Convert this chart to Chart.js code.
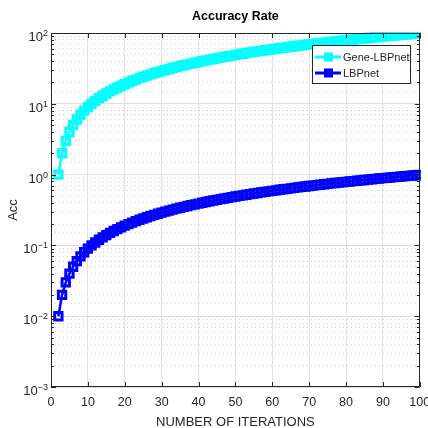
<!DOCTYPE html>
<html>
<head>
<meta charset="utf-8">
<script src="https://cdn.jsdelivr.net/npm/chart.js@4.4.0/dist/chart.umd.min.js"></script>
<style>
  html, body { margin: 0; padding: 0; background: #fff; }
  #wrap { width: 428px; height: 428px; }
</style>
</head>
<body>
<div id="wrap"><canvas id="accChart" width="428" height="428"></canvas></div>
<script>
// Accuracy rate vs. iterations (log y axis)

const iterations = [
   2,  3,  4,  5,  6,  7,  8,  9, 10, 11, 12, 13, 14, 15, 16, 17, 18, 19, 20, 21,
  22, 23, 24, 25, 26, 27, 28, 29, 30, 31, 32, 33, 34, 35, 36, 37, 38, 39, 40, 41,
  42, 43, 44, 45, 46, 47, 48, 49, 50, 51, 52, 53, 54, 55, 56, 57, 58, 59, 60, 61,
  62, 63, 64, 65, 66, 67, 68, 69, 70, 71, 72, 73, 74, 75, 76, 77, 78, 79, 80, 81,
  82, 83, 84, 85, 86, 87, 88, 89, 90, 91, 92, 93, 94, 95, 96, 97, 98, 99, 100
];

const geneLBPnet = [
   1,  2,  3,  4,  5,  6,  7,  8,  9, 10, 11, 12, 13, 14, 15, 16, 17, 18, 19, 20,
  21, 22, 23, 24, 25, 26, 27, 28, 29, 30, 31, 32, 33, 34, 35, 36, 37, 38, 39, 40,
  41, 42, 43, 44, 45, 46, 47, 48, 49, 50, 51, 52, 53, 54, 55, 56, 57, 58, 59, 60,
  61, 62, 63, 64, 65, 66, 67, 68, 69, 70, 71, 72, 73, 74, 75, 76, 77, 78, 79, 80,
  81, 82, 83, 84, 85, 86, 87, 88, 89, 90, 91, 92, 93, 94, 95, 96, 97, 98, 99
];

const lbpNet = [
  0.01, 0.02, 0.03, 0.04, 0.05, 0.06, 0.07, 0.08, 0.09, 0.10,
  0.11, 0.12, 0.13, 0.14, 0.15, 0.16, 0.17, 0.18, 0.19, 0.20,
  0.21, 0.22, 0.23, 0.24, 0.25, 0.26, 0.27, 0.28, 0.29, 0.30,
  0.31, 0.32, 0.33, 0.34, 0.35, 0.36, 0.37, 0.38, 0.39, 0.40,
  0.41, 0.42, 0.43, 0.44, 0.45, 0.46, 0.47, 0.48, 0.49, 0.50,
  0.51, 0.52, 0.53, 0.54, 0.55, 0.56, 0.57, 0.58, 0.59, 0.60,
  0.61, 0.62, 0.63, 0.64, 0.65, 0.66, 0.67, 0.68, 0.69, 0.70,
  0.71, 0.72, 0.73, 0.74, 0.75, 0.76, 0.77, 0.78, 0.79, 0.80,
  0.81, 0.82, 0.83, 0.84, 0.85, 0.86, 0.87, 0.88, 0.89, 0.90,
  0.91, 0.92, 0.93, 0.94, 0.95, 0.96, 0.97, 0.98, 0.99
];

const xTicks = [0, 10, 20, 30, 40, 50, 60, 70, 80, 90, 100];
const yExponents = [-3, -2, -1, 0, 1, 2];
const seriesNames = ['Gene-LBPnet', 'LBPnet'];
const seriesColors = ['#00ffff', '#0000ff'];

const FONT = '"Liberation Sans", Arial, sans-serif';
const TEXT = '#262626';

function isPow10(v) {
  const e = Math.log10(v);
  return Math.abs(e - Math.round(e)) < 1e-9;
}

// MATLAB-like box, inward ticks, superscript labels, titles, legend
const matlabLook = {
  id: 'matlabLook',
  afterDatasetsDraw(chart) {
    const { ctx, chartArea: a, scales: { x, y } } = chart;
    ctx.save();
    ctx.strokeStyle = TEXT;
    ctx.lineWidth = 1;

    // box
    ctx.beginPath();
    ctx.rect(Math.round(a.left) + 0.5, Math.round(a.top) + 0.5,
             Math.round(a.right - a.left) - 1, Math.round(a.bottom - a.top) - 1);
    ctx.stroke();

    // x ticks
    ctx.beginPath();
    xTicks.forEach(v => {
      const px = Math.round(x.getPixelForValue(v)) + 0.5;
      ctx.moveTo(px, a.bottom); ctx.lineTo(px, a.bottom - 5);
      ctx.moveTo(px, a.top); ctx.lineTo(px, a.top + 5);
    });
    // y ticks (major + minor)
    for (let e = -3; e <= 2; e++) {
      for (let m = 1; m <= 9; m++) {
        if (e === 2 && m > 1) break;
        const v = m * Math.pow(10, e);
        const py = Math.round(y.getPixelForValue(v)) + 0.5;
        const len = m === 1 ? 5 : 3;
        ctx.moveTo(a.left, py); ctx.lineTo(a.left + len, py);
        ctx.moveTo(a.right, py); ctx.lineTo(a.right - len, py);
      }
    }
    ctx.stroke();

    // x tick labels
    ctx.fillStyle = TEXT;
    ctx.font = '12.5px ' + FONT;
    ctx.textAlign = 'center';
    ctx.textBaseline = 'middle';
    xTicks.forEach(v => {
      ctx.fillText(String(v), x.getPixelForValue(v), a.bottom + 16);
    });

    // y tick labels 10^e
    ctx.textBaseline = 'alphabetic';
    yExponents.forEach(e => {
      const py = y.getPixelForValue(Math.pow(10, e));
      const expTxt = String(e).replace('-', '\u2212');
      ctx.font = '9px ' + FONT;
      const ew = ctx.measureText(expTxt).width;
      const right = a.left - 3;
      ctx.textAlign = 'left';
      ctx.fillText(expTxt, right - ew, py + 3);
      ctx.font = '13px ' + FONT;
      ctx.textAlign = 'right';
      ctx.fillText('10', right - ew, py + 8);
    });

    // titles
    ctx.textAlign = 'center';
    ctx.textBaseline = 'middle';
    const cx = (a.left + a.right) / 2;
    ctx.font = 'bold 12.5px ' + FONT;
    ctx.fillStyle = '#000';
    ctx.fillText('Accuracy Rate', cx, 17);
    ctx.fillStyle = TEXT;
    ctx.font = '13px ' + FONT;
    ctx.fillText('NUMBER OF ITERATIONS', cx, 422);
    ctx.save();
    ctx.translate(13, (a.top + a.bottom) / 2);
    ctx.rotate(-Math.PI / 2);
    ctx.font = '13px ' + FONT;
    ctx.fillText('Acc', 0, 0);
    ctx.restore();

    // legend
    const lx = 312, ly = 45, lw = 98, lh = 38;
    ctx.fillStyle = '#fff';
    ctx.fillRect(lx, ly, lw, lh);
    ctx.strokeStyle = '#262626';
    ctx.lineWidth = 1;
    ctx.strokeRect(lx + 0.5, ly + 0.5, lw, lh);
    seriesNames.forEach((name, i) => {
      const ry = ly + 12 + i * 16;
      ctx.strokeStyle = seriesColors[i];
      ctx.lineWidth = 3;
      ctx.beginPath();
      ctx.moveTo(lx + 3, ry); ctx.lineTo(lx + 29, ry);
      ctx.stroke();
      ctx.lineWidth = 2;
      ctx.fillStyle = seriesColors[i];
      ctx.fillRect(lx + 13, ry - 3.5, 7, 7);
      ctx.strokeRect(lx + 13, ry - 3.5, 7, 7);
      ctx.fillStyle = TEXT;
      ctx.font = '11px ' + FONT;
      ctx.textAlign = 'left';
      ctx.fillText(name, lx + 31, ry + 1);
    });
    ctx.restore();
  }
};

function makeSeries(i, values) {
  return {
    label: seriesNames[i],
    data: iterations.map((it, k) => ({ x: it, y: values[k] })),
    borderColor: seriesColors[i],
    borderWidth: 2.5,
    pointStyle: 'rect',
    pointRadius: 5.2,
    pointBorderWidth: 3,
    pointBackgroundColor: 'rgba(255,255,255,0)',
    pointBorderColor: seriesColors[i],
    clip: 1
  };
}

const ctx = document.getElementById('accChart');
new Chart(ctx, {
  type: 'line',
  data: {
    datasets: [makeSeries(0, geneLBPnet), makeSeries(1, lbpNet)]
  },
  options: {
    responsive: false,
    animation: false,
    layout: { padding: { top: 33, right: 6, bottom: 0, left: 0 } },
    plugins: {
      legend: { display: false },
      tooltip: { enabled: false },
      title: { display: false }
    },
    scales: {
      x: {
        type: 'linear',
        min: 0,
        max: 100,
        afterBuildTicks: s => { s.ticks = xTicks.map(v => ({ value: v })); },
        afterFit: s => { s.height = 41; },
        grid: { color: '#e3e3e3', lineWidth: 1, drawTicks: false },
        border: { display: false },
        ticks: { display: false }
      },
      y: {
        type: 'logarithmic',
        min: 0.001,
        max: 100,
        afterFit: s => { s.width = 51; },
        grid: {
          drawTicks: false,
          lineWidth: 1,
          color: c => isPow10(c.tick.value) ? '#dedede' : '#d2d2d2'
        },
        border: {
          display: false,
          dash: c => (c.tick && !isPow10(c.tick.value)) ? [1, 3] : []
        },
        ticks: { display: false }
      }
    }
  },
  plugins: [matlabLook]
});
</script>
</body>
</html>
